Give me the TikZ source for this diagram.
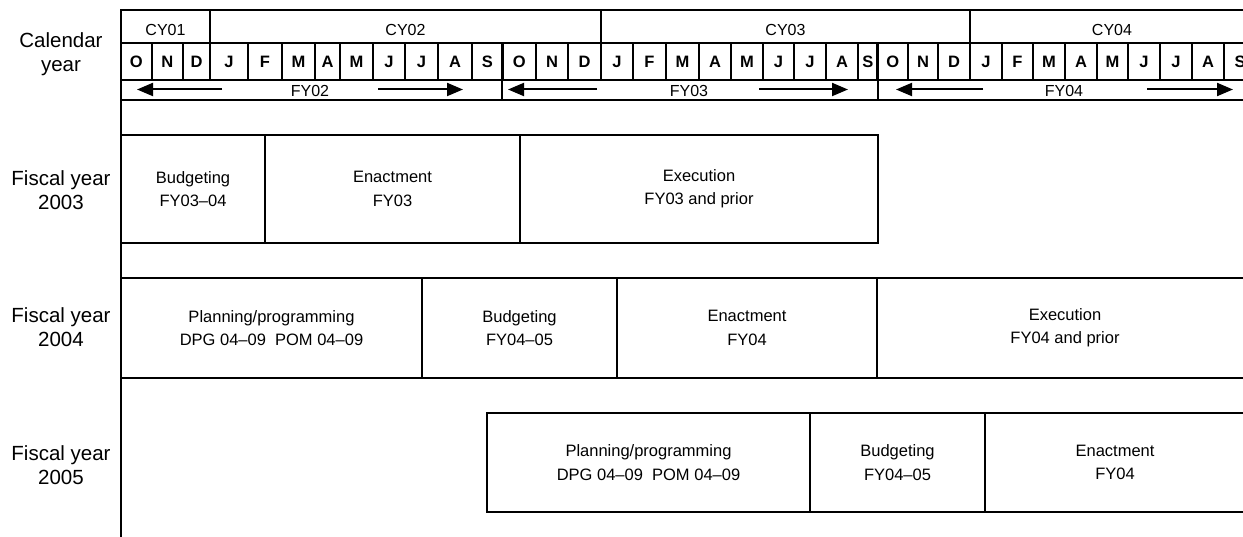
\documentclass[tikz,border=0pt]{standalone}
\usepackage{fontspec}
\setmainfont{Liberation Sans}
\usetikzlibrary{arrows.meta}
\tikzset{
  frame/.style={line width=2.2pt},
  rowlabel/.style={font=\fontsize{20.5}{24}\selectfont, align=center, inner sep=0pt},
  phase/.style={font=\fontsize{16.5}{23.4}\selectfont, align=center, inner sep=0pt},
  hdr/.style={font=\fontsize{16}{18}\selectfont, inner sep=0pt},
  month/.style={font=\bfseries\fontsize{16.5}{18}\selectfont, inner sep=0pt},
  fyarrow/.style={line width=2pt, -{Triangle[length=16pt,width=13pt]}}
}
\begin{document}
\begin{tikzpicture}[x=1pt,y=-1pt]
\useasboundingbox (0,0) rectangle (1243,537);
\clip (0,0) rectangle (1243,537);

% row labels
\node[rowlabel] (lcal) at (61,54) {Calendar\\year};
\node[rowlabel] (l03) at (61,190) {Fiscal year\\2003};
\node[rowlabel] (l04) at (61,327) {Fiscal year\\2004};
\node[rowlabel] (l05) at (61,465) {Fiscal year\\2005};

% axis and header frame
\draw[frame] (1260,10) -- (121,10) -- (121,537);
\foreach \y in {43,80,100} \draw[frame] (121,\y) -- (1260,\y);

% calendar years
\foreach \x in {210,601,970} \draw[frame] (\x,10) -- (\x,43);
\node[hdr] (cy01) at (165.5,29.5) {CY01};
\node[hdr] (cy02) at (405.5,29.5) {CY02};
\node[hdr] (cy03) at (785.5,29.5) {CY03};
\node[hdr] (cy04) at (1112,29.5) {CY04};

% months
\foreach \a/\b/\m [count=\i] in {
  121/151.7/O, 151.7/183/N, 183/210/D, 210/248/J, 248/282/F, 282/315/M,
  315/340/A, 340/373/M, 373/405/J, 405/438/J, 438/472/A, 472/502.5/S,
  502.5/536/O, 536/568/N, 568/601/D, 601/633/J, 633/666/F, 666/699/M,
  699/731/A, 731/763/M, 763/794/J, 794/826/J, 826/858/A, 858/877.5/S,
  877.5/908/O, 908/938/N, 938/970/D, 970/1002/J, 1002/1033/F, 1033/1065/M,
  1065/1097/A, 1097/1128/M, 1128/1160/J, 1160/1192/J, 1192/1224/A, 1224/1256/S}
{
  \draw[frame] (\b,43) -- (\b,80);
  \node[month] (m\i) at ({(\a+\b)/2},62) {\m};
}

% fiscal years with spanning arrows
\draw[frame] (502,80) -- (502,100);
\draw[frame] (878,80) -- (878,100);
\node[hdr] (fy02) at (310,90.5) {FY02};
\node[hdr] (fy03) at (689,90.5) {FY03};
\node[hdr] (fy04) at (1064,90.5) {FY04};
\coordinate (a02l) at (222,89.5);  \coordinate (t02l) at (137,89.5);
\coordinate (a02r) at (378,89.5);  \coordinate (t02r) at (463,89.5);
\coordinate (a03l) at (597,89.5);  \coordinate (t03l) at (508,89.5);
\coordinate (a03r) at (759,89.5);  \coordinate (t03r) at (848,89.5);
\coordinate (a04l) at (983,89.5);  \coordinate (t04l) at (896,89.5);
\coordinate (a04r) at (1147,89.5); \coordinate (t04r) at (1233,89.5);
\draw[fyarrow] (a02l) -- (t02l);
\draw[fyarrow] (a02r) -- (t02r);
\draw[fyarrow] (a03l) -- (t03l);
\draw[fyarrow] (a03r) -- (t03r);
\draw[fyarrow] (a04l) -- (t04l);
\draw[fyarrow] (a04r) -- (t04r);

% fiscal year 2003
\draw[frame] (121,135) rectangle (878,243);
\draw[frame] (265,135) -- (265,243);
\draw[frame] (520,135) -- (520,243);
\node[phase] (b03) at (193,189) {Budgeting\\FY03--04};
\node[phase] (e03) at (392.5,189) {Enactment\\FY03};
\node[phase] (x03) at (699,189) {Execution\\FY03 and prior};

% fiscal year 2004
\draw[frame] (121,278) -- (1260,278);
\draw[frame] (121,378) -- (1260,378);
\foreach \x in {422,617,877} \draw[frame] (\x,278) -- (\x,378);
\node[phase] (p04) at (271.5,328) {Planning/programming\\DPG 04--09\ \ POM 04--09};
\node[phase] (b04) at (519.5,328) {Budgeting\\FY04--05};
\node[phase] (e04) at (747,328) {Enactment\\FY04};
\node[phase] (x04) at (1065,328) {Execution\\FY04 and prior};

% fiscal year 2005
\draw[frame] (1260,413) -- (487,413) -- (487,512) -- (1260,512);
\draw[frame] (810,413) -- (810,512);
\draw[frame] (985,413) -- (985,512);
\node[phase] (p05) at (648.5,462.5) {Planning/programming\\DPG 04--09\ \ POM 04--09};
\node[phase] (b05) at (897.5,462.5) {Budgeting\\FY04--05};
\node[phase] (e05) at (1115,462.5) {Enactment\\FY04};
\end{tikzpicture}
\end{document}
